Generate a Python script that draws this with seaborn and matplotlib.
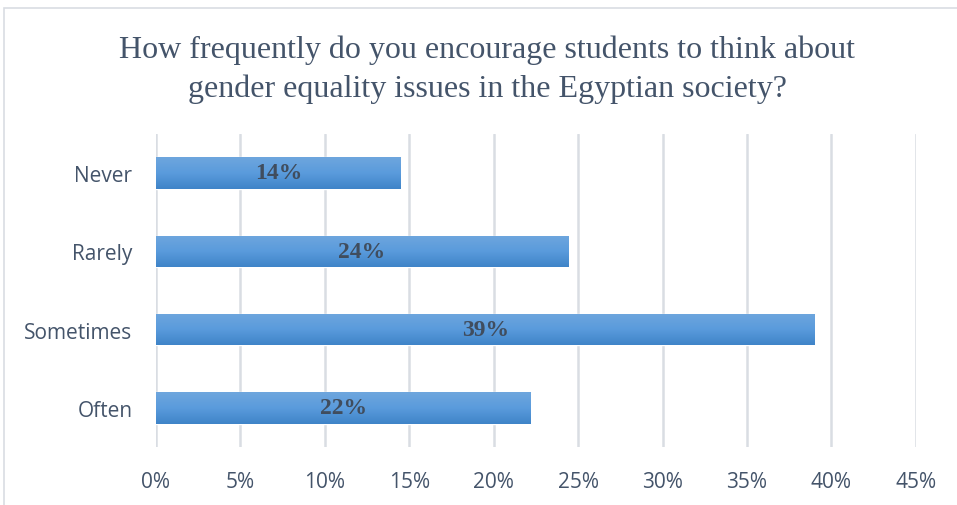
import numpy as np
import pandas as pd
import seaborn as sns
import matplotlib.pyplot as plt
from matplotlib.patches import Rectangle

# Survey answers (share of respondents)
categories = ['Never', 'Rarely', 'Sometimes', 'Often']
shares = [0.145, 0.244, 0.390, 0.222]
bar_labels = ['14%', '24%', '39%', '22%']
tick_values = [0, 0.05, 0.10, 0.15, 0.20, 0.25, 0.30, 0.35, 0.40, 0.45]
tick_labels = ['0%', '5%', '10%', '15%', '20%', '25%', '30%', '35%', '40%', '45%']

df = pd.DataFrame({'answer': categories, 'share': shares})

sns.set_style('white')
plt.rcParams['font.family'] = ['Open Sans', 'DejaVu Sans']

fig = plt.figure(figsize=(9.57, 5.06), dpi=100)
ax = fig.add_axes([0.163, 0.1146, 0.794, 0.619])

sns.barplot(data=df, x='share', y='answer', orient='h', color='#5B9BD5',
            width=0.4, ax=ax, zorder=3)

# gradient fill for each bar (lighter at top, darker at bottom)
grad = np.linspace(0, 1, 100).reshape(-1, 1)
cmap = plt.matplotlib.colors.LinearSegmentedColormap.from_list(
    'bar', ['#6EA6DE', '#5A9BDC', '#3F84C8'])
for bar in ax.patches:
    x0, y0 = bar.get_x(), bar.get_y()
    w, h = bar.get_width(), bar.get_height()
    im = ax.imshow(grad, cmap=cmap, aspect='auto', zorder=4,
                   extent=[x0, x0 + w, y0 + h, y0], origin='upper')
    im.set_clip_path(bar)

for i, (v, lab) in enumerate(zip(shares, bar_labels)):
    ax.text(v / 2, i, lab, ha='center', va='center', zorder=5,
            fontsize=17, fontweight='bold', color='#404D5E',
            family=['Liberation Serif', 'DejaVu Serif'])

ax.set_xlim(0, 0.45)
ax.set_ylim(3.5, -0.5)
ax.set_xticks(tick_values)
ax.set_xticklabels(tick_labels)
ax.tick_params(axis='both', length=0, labelsize=15, labelcolor='#44546A')
ax.tick_params(axis='x', pad=17)
ax.tick_params(axis='y', pad=17)
ax.set_xlabel('')
ax.set_ylabel('')
ax.grid(axis='x', color='#D9DDE3', linewidth=1.8, zorder=0)
for s in ax.spines.values():
    s.set_visible(False)

fig.text(0.509, 0.862, 'How frequently do you encourage students to think about\n'
         'gender equality issues in the Egyptian society?',
         ha='center', va='center', fontsize=23, color='#44546A',
         linespacing=1.42, family=['Liberation Serif', 'DejaVu Serif'])

# chart frame
fig.patches.append(Rectangle((4 / 957, -0.05), 1.1, 1 - 9 / 506 + 0.05,
                             transform=fig.transFigure, fill=False,
                             edgecolor='#D9DDE3', linewidth=1.2))

plt.savefig('out.png', dpi=100)
